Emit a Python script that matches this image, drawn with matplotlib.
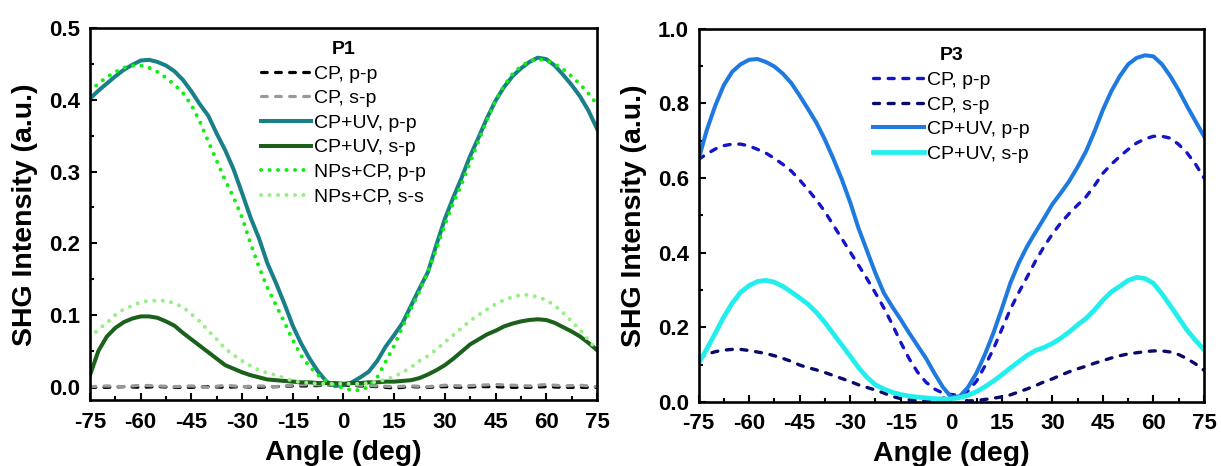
import numpy as np
import matplotlib.pyplot as plt
from matplotlib.ticker import MultipleLocator, FormatStrFormatter

plt.rcParams['font.family'] = ['Liberation Sans', 'DejaVu Sans']
plt.rcParams['axes.unicode_minus'] = False

# angle grids (deg)
angle = np.arange(-75, 75.1, 2.5)
angle5 = np.arange(-75, 76, 5)

# ---------------- P1 ----------------
p1_cp_pp = [-0.001, -0.001, 0.000, -0.001, 0.000, -0.001, -0.001, 0.000, -0.001, 0.000, -0.001,
            0.000, 0.001, 0.001, 0.002, 0.002, 0.001, 0.000, -0.002, 0.000, -0.001, 0.000,
            -0.001, 0.000, 0.000, -0.001, -0.001, 0.000, -0.001, -0.001, -0.001]
p1_cp_sp = [0.000, 0.001, 0.000, 0.002, 0.001, 0.000, 0.001, -0.001, 0.002, 0.000, 0.001,
            0.000, 0.002, 0.003, 0.002, 0.003, 0.002, 0.001, 0.000, 0.001, 0.000, 0.002,
            0.001, 0.002, 0.003, 0.002, 0.001, 0.003, 0.001, 0.002, 0.000]
p1_uv_pp = [0.402, 0.413, 0.423, 0.433, 0.442, 0.449, 0.455, 0.456, 0.453, 0.448, 0.440,
            0.428, 0.412, 0.394, 0.378, 0.353, 0.330, 0.303, 0.270, 0.236, 0.207, 0.172,
            0.145, 0.116, 0.085, 0.060, 0.039, 0.021, 0.007, 0.001, 0.002, 0.006, 0.013,
            0.021, 0.036, 0.056, 0.072, 0.089, 0.113, 0.137, 0.160, 0.198, 0.234, 0.264,
            0.292, 0.322, 0.348, 0.375, 0.399, 0.418, 0.433, 0.444, 0.453, 0.459, 0.457,
            0.448, 0.435, 0.421, 0.405, 0.385, 0.360]
p1_uv_sp = [0.016, 0.050, 0.070, 0.082, 0.090, 0.095, 0.098, 0.098, 0.096, 0.091, 0.085,
            0.075, 0.066, 0.057, 0.048, 0.039, 0.030, 0.025, 0.020, 0.016, 0.013, 0.010,
            0.009, 0.008, 0.007, 0.006, 0.006, 0.005, 0.005, 0.005, 0.004, 0.005, 0.005,
            0.006, 0.006, 0.007, 0.007, 0.008, 0.009, 0.012, 0.017, 0.023, 0.030, 0.039,
            0.049, 0.059, 0.066, 0.073, 0.078, 0.084, 0.088, 0.091, 0.093, 0.094, 0.093,
            0.089, 0.083, 0.077, 0.070, 0.061, 0.051]
p1_np_pp = [0.412, 0.423, 0.432, 0.439, 0.445, 0.448, 0.448, 0.445, 0.439, 0.431, 0.421,
            0.410, 0.393, 0.370, 0.342, 0.315, 0.288, 0.264, 0.236, 0.200, 0.167, 0.138,
            0.114, 0.090, 0.065, 0.043, 0.028, 0.016, 0.007, 0.002, -0.002, -0.005, -0.005,
            0.000, 0.013, 0.035, 0.057, 0.084, 0.109, 0.133, 0.161, 0.192, 0.226, 0.257,
            0.283, 0.313, 0.343, 0.372, 0.399, 0.420, 0.436, 0.447, 0.454, 0.457, 0.455,
            0.450, 0.443, 0.433, 0.422, 0.409, 0.394]
p1_np_ss = [0.068, 0.080, 0.089, 0.100, 0.108, 0.113, 0.118, 0.120, 0.120, 0.120, 0.116,
            0.111, 0.101, 0.091, 0.078, 0.066, 0.053, 0.044, 0.036, 0.029, 0.023, 0.019,
            0.016, 0.012, 0.008, 0.006, 0.005, 0.004, 0.004, 0.004, 0.004, 0.004, 0.004,
            0.005, 0.007, 0.010, 0.014, 0.020, 0.027, 0.036, 0.043, 0.052, 0.062, 0.072,
            0.082, 0.092, 0.100, 0.108, 0.115, 0.121, 0.125, 0.128, 0.128, 0.125, 0.121,
            0.113, 0.103, 0.091, 0.079, 0.065, 0.051]

# ---------------- P3 ----------------
p3_cp_pp = [0.650, 0.665, 0.678, 0.687, 0.691, 0.691, 0.686, 0.677, 0.667, 0.653, 0.637,
            0.619, 0.595, 0.569, 0.541, 0.510, 0.474, 0.438, 0.402, 0.366, 0.330, 0.292,
            0.252, 0.208, 0.160, 0.116, 0.080, 0.053, 0.035, 0.024, 0.020, 0.018, 0.030,
            0.056, 0.097, 0.142, 0.195, 0.248, 0.293, 0.335, 0.378, 0.416, 0.450, 0.480,
            0.505, 0.528, 0.550, 0.580, 0.613, 0.637, 0.658, 0.677, 0.694, 0.705, 0.712,
            0.712, 0.707, 0.690, 0.667, 0.637, 0.600]
p3_cp_sp = [0.117, 0.128, 0.135, 0.139, 0.141, 0.141, 0.138, 0.134, 0.130, 0.124, 0.117,
            0.109, 0.099, 0.092, 0.086, 0.079, 0.071, 0.063, 0.055, 0.046, 0.039, 0.032,
            0.024, 0.015, 0.009, 0.006, 0.004, 0.004, 0.004, 0.010, 0.016, 0.008, 0.003,
            0.004, 0.007, 0.010, 0.014, 0.019, 0.027, 0.035, 0.044, 0.054, 0.062, 0.072,
            0.081, 0.089, 0.096, 0.104, 0.111, 0.118, 0.124, 0.129, 0.132, 0.135, 0.137,
            0.137, 0.134, 0.127, 0.116, 0.102, 0.085]
p3_uv_pp = [0.650, 0.730, 0.795, 0.849, 0.885, 0.905, 0.917, 0.919, 0.911, 0.899, 0.880,
            0.855, 0.821, 0.785, 0.748, 0.703, 0.652, 0.597, 0.535, 0.465, 0.405, 0.345,
            0.292, 0.255, 0.221, 0.185, 0.151, 0.117, 0.077, 0.040, 0.013, 0.015, 0.040,
            0.078, 0.128, 0.185, 0.250, 0.318, 0.372, 0.417, 0.455, 0.492, 0.530, 0.560,
            0.592, 0.630, 0.672, 0.725, 0.783, 0.833, 0.873, 0.905, 0.922, 0.929, 0.926,
            0.905, 0.873, 0.835, 0.792, 0.752, 0.712]
p3_uv_sp = [0.103, 0.143, 0.185, 0.228, 0.265, 0.294, 0.312, 0.323, 0.326, 0.321, 0.310,
            0.295, 0.279, 0.262, 0.240, 0.213, 0.183, 0.153, 0.123, 0.092, 0.066, 0.046,
            0.035, 0.026, 0.020, 0.016, 0.013, 0.011, 0.009, 0.008, 0.008, 0.012, 0.018,
            0.028, 0.041, 0.056, 0.073, 0.091, 0.108, 0.125, 0.138, 0.146, 0.157, 0.171,
            0.188, 0.207, 0.224, 0.247, 0.273, 0.295, 0.310, 0.326, 0.334, 0.331, 0.318,
            0.290, 0.258, 0.225, 0.192, 0.165, 0.140]

dash = (0, (1.8, 2.6))
dots = (0, (0.01, 2.1))

fig = plt.figure(figsize=(12.21, 4.66), dpi=100)
ax1 = fig.add_axes([0.0737, 0.1406, 0.4152, 0.7987])
ax2 = fig.add_axes([0.5721, 0.1373, 0.4140, 0.8009])

ax1.plot(angle5, p1_cp_pp, color='black', lw=2.3, ls=dash, dash_capstyle='round', label='CP, p-p')
ax1.plot(angle5, p1_cp_sp, color='#999999', lw=2.3, ls=dash, dash_capstyle='round', label='CP, s-p')
ax1.plot(angle, p1_uv_pp, color='#1a8088', lw=2.9, label='CP+UV, p-p')
ax1.plot(angle, p1_uv_sp, color='#1b611b', lw=2.9, label='CP+UV, s-p')
ax1.plot(angle, p1_np_pp, color='#11ee11', lw=2.9, ls=dots, dash_capstyle='round', label='NPs+CP, p-p')
ax1.plot(angle, p1_np_ss, color='#99ee88', lw=2.9, ls=dots, dash_capstyle='round', label='NPs+CP, s-s')

ax2.plot(angle, p3_cp_pp, color='#1414c8', lw=2.4, ls=dash, dash_capstyle='round', label='CP, p-p')
ax2.plot(angle, p3_cp_sp, color='#0a0a6a', lw=2.4, ls=dash, dash_capstyle='round', label='CP, s-p')
ax2.plot(angle, p3_uv_pp, color='#1f7ae0', lw=2.9, label='CP+UV, p-p')
ax2.plot(angle, p3_uv_sp, color='#22eeee', lw=3.4, label='CP+UV, s-p')

for ax, title, ylim, major, minor, ly in [(ax1, 'P1', (-0.0193, 0.5), 0.1, 0.05, 0.987),
                                          (ax2, 'P3', (0.0, 1.0), 0.2, 0.1, 0.971)]:
    ax.set_xlim(-75, 75)
    ax.set_ylim(*ylim)
    ax.xaxis.set_major_locator(MultipleLocator(15))
    ax.xaxis.set_minor_locator(MultipleLocator(7.5))
    ax.yaxis.set_major_locator(MultipleLocator(major))
    ax.yaxis.set_minor_locator(MultipleLocator(minor))
    ax.yaxis.set_major_formatter(FormatStrFormatter('%.1f'))
    ax.tick_params(which='both', direction='in', width=1.5, labelsize=16)
    ax.tick_params(axis='x', which='major', pad=8)
    ax.tick_params(axis='y', which='major', pad=7)
    ax.tick_params(which='major', length=5)
    ax.tick_params(which='minor', length=3)
    for lab in ax.get_xticklabels() + ax.get_yticklabels():
        lab.set_fontweight('bold')
    for sp in ax.spines.values():
        sp.set_linewidth(1.9)
    ax.set_xlabel('Angle (deg)', fontsize=20.5, fontweight='bold', labelpad=5)
    ax.set_ylabel('SHG Intensity (a.u.)', fontsize=20.5, fontweight='bold', labelpad=8)
    leg = ax.legend(loc='upper center', bbox_to_anchor=(0.5, ly), frameon=False,
                    fontsize=14, title=title, handlelength=2.6, handletextpad=0.15,
                    labelspacing=0.36, borderaxespad=0.0)
    leg.get_title().set_fontweight('bold')
    leg.get_title().set_fontsize(14)

fig.savefig('out.png', dpi=100)
